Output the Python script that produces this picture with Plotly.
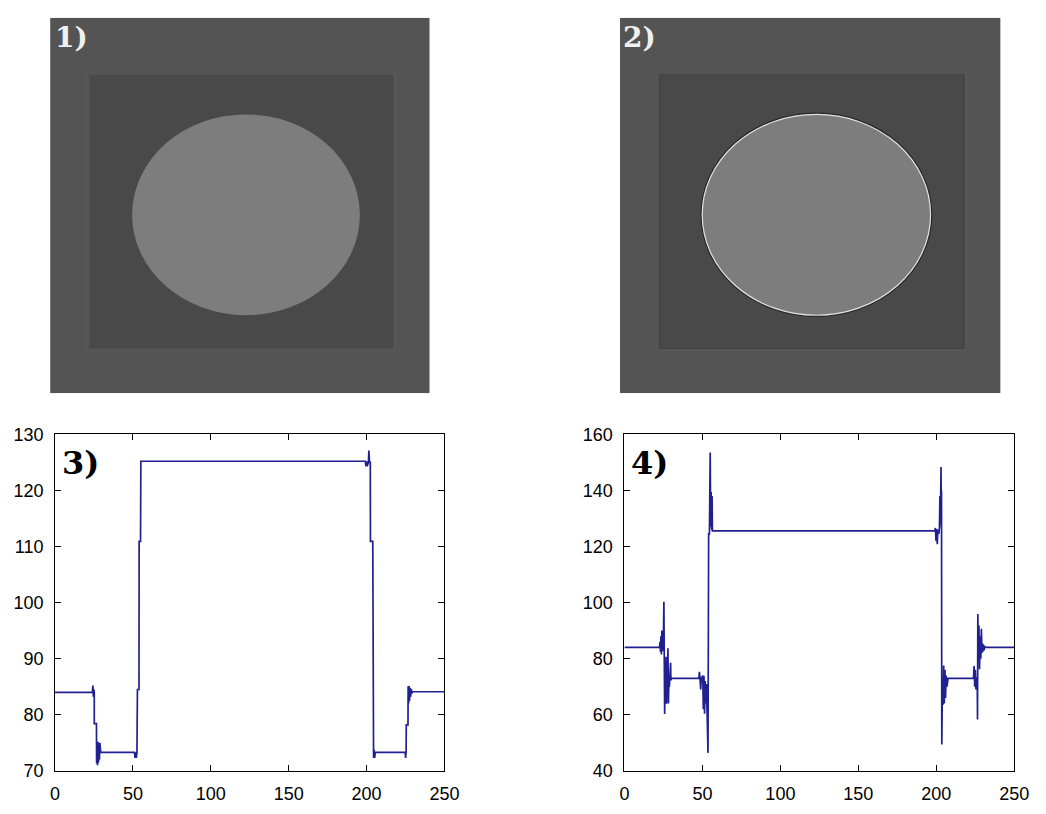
import plotly.graph_objects as go

# ---------------- data ----------------
# grey levels of the synthetic image (background, square, disc)
IMAGE_LEVELS = [84, 73, 125]
# geometry of the image content in image pixels (250 x 250 image)
IMAGE_SIZE = [250, 250]
SQUARE_BOUNDS = [26, 226, 38, 220]        # x0, x1, y0, y1
DISC_BOUNDS = [54, 204, 64.3, 198]        # x0, x1, y0, y1

# profile 3) : original image, centre row
P3_X = [0, 24, 24.3, 24.6, 24.9, 25.2, 25.2, 26.6, 26.7, 27.0, 27.3, 27.6, 27.9, 28.2, 28.5, 28.8,
        29.3, 29.8, 51, 51.4, 51.8, 52.2, 52.6, 52.9, 53.9, 54.0, 54.9, 55.1,
        199.3, 199.6, 200.0, 200.4, 200.8, 201.2, 201.5, 201.9, 202.4, 202.5, 204.0, 204.2,
        204.5, 204.8, 205.2, 205.6, 206.2, 224.8, 225.1, 225.4, 225.5, 226.6, 226.7, 227.0,
        227.3, 227.6, 227.9, 228.3, 228.7, 229.1, 229.6, 250]
P3_Y = [84, 84, 85.2, 83.2, 84.5, 84, 78.4, 78.4, 71.3, 74, 71, 75.2, 71.5, 74, 72, 75,
        73.3, 73.3, 73.3, 72.3, 73.3, 72.3, 73.3, 84.5, 84.5, 110.9, 110.9, 125.2,
        125.2, 124.3, 125.2, 124.3, 125, 125, 127.1, 125, 125, 110.9, 110.9, 74,
        72.3, 73.8, 72.3, 73.3, 73.3, 73.3, 72.3, 73.5, 78.2, 78.2, 85.1, 82,
        85.1, 82.5, 84.8, 83.2, 84.6, 83.8, 84.1, 84.1]

# profile 4) : filtered image, centre row
P4_X = [0, 22.5, 22.8, 23.1, 23.4, 23.7, 24.0, 24.3, 24.6, 24.9, 25.3, 25.5, 25.8, 26.1, 26.4,
        26.7, 27.0, 27.3, 27.6, 27.9, 28.2, 28.5, 28.8, 29.2, 29.6, 29.8, 30.2, 47.7, 48.1,
        48.5, 48.9, 49.3, 49.8, 50.2, 50.6, 51.0, 51.4, 51.8, 52.2, 52.6, 53.0, 53.6, 54.0,
        54.5, 55.0, 55.3, 55.6, 55.9, 56.2, 56.4,
        199.0, 199.4, 199.8, 200.2, 200.6, 201.0, 201.6, 202.0, 202.3, 202.6, 203.0, 203.2,
        203.3, 203.5, 203.9, 204.3, 204.7, 205.1, 205.5, 205.9, 206.3, 206.8, 207.5, 223.8,
        224.2, 224.6, 225.0, 225.4, 225.8, 226.2, 226.4, 226.6, 226.9, 227.3, 227.7, 228.1,
        228.5, 228.9, 229.2, 229.5, 229.8, 230.2, 230.6, 231.0, 231.5, 250]
P4_Y = [84, 84, 86, 82.5, 88, 81.5, 90, 82.6, 89, 83, 100.3, 81, 60.3, 74, 64,
        80.7, 63.9, 75, 66, 83.7, 64, 72, 70, 73.5, 78.5, 72.3, 73, 73, 75.3,
        72.5, 69, 73.5, 73, 74, 62, 73.9, 60.4, 72, 64, 71, 60.4, 46.4, 124.5,
        124.5, 153.5, 127, 139.4, 126, 138, 125.6,
        125.6, 126.6, 122, 126.2, 120.8, 126, 124.5, 127, 138, 128, 148.3, 127,
        140, 49.4, 72, 63.6, 77.6, 64, 76, 66, 74, 70, 73, 73,
        77.4, 70, 76, 69, 73, 73.5, 58.3, 95.9, 80, 91.8, 76.2, 88,
        80, 90.7, 82, 85.5, 82.5, 85, 83, 84.5, 84, 84]

X_TICKS = [0, 50, 100, 150, 200, 250]
P3_YTICKS = [70, 80, 90, 100, 110, 120, 130]
P4_YTICKS = [40, 60, 80, 100, 120, 140, 160]
PANEL_LABELS = ["1)", "2)", "3)", "4)"]

# ---------------- figure ----------------
W, H = 1046, 814
LINE_COLOR = "#202090"


def gray(v):
    return f"rgb({v},{v},{v})"


def px_dom_x(a, b):
    return [a / W, b / W]


def px_dom_y(top, bottom):
    return [1 - bottom / H, 1 - top / H]


fig = go.Figure()

fig.add_trace(go.Scatter(x=P3_X, y=P3_Y, mode="lines", xaxis="x3", yaxis="y3",
                         line=dict(color=LINE_COLOR, width=1.7), showlegend=False,
                         hoverinfo="skip"))
fig.add_trace(go.Scatter(x=P4_X, y=P4_Y, mode="lines", xaxis="x4", yaxis="y4",
                         line=dict(color=LINE_COLOR, width=1.7), showlegend=False,
                         hoverinfo="skip"))
# invisible traces to anchor the image axes
fig.add_trace(go.Scatter(x=[0, IMAGE_SIZE[0]], y=[0, IMAGE_SIZE[1]], mode="markers",
                         marker=dict(opacity=0), xaxis="x", yaxis="y", showlegend=False,
                         hoverinfo="skip"))
fig.add_trace(go.Scatter(x=[0, IMAGE_SIZE[0]], y=[0, IMAGE_SIZE[1]], mode="markers",
                         marker=dict(opacity=0), xaxis="x2", yaxis="y2", showlegend=False,
                         hoverinfo="skip"))

img_axis = dict(showgrid=False, zeroline=False, showticklabels=False,
                ticks="", showline=False, fixedrange=True)

shapes = []
for xr, yr, filtered in (("x", "y", False), ("x2", "y2", True)):
    shapes.append(dict(type="rect", xref=xr, yref=yr, x0=0, x1=IMAGE_SIZE[0], y0=0,
                       y1=IMAGE_SIZE[1], fillcolor=gray(IMAGE_LEVELS[0]), line=dict(width=0),
                       layer="below"))
    shapes.append(dict(type="rect", xref=xr, yref=yr, x0=SQUARE_BOUNDS[0] - 2.5,
                       x1=SQUARE_BOUNDS[1] + 1.5, y0=SQUARE_BOUNDS[2] - 2.5,
                       y1=SQUARE_BOUNDS[3] + 1.5, fillcolor="rgba(0,0,0,0)",
                       line=dict(width=1, color=gray(IMAGE_LEVELS[0] + 6)), layer="below"))
    shapes.append(dict(type="rect", xref=xr, yref=yr, x0=SQUARE_BOUNDS[0], x1=SQUARE_BOUNDS[1],
                       y0=SQUARE_BOUNDS[2], y1=SQUARE_BOUNDS[3],
                       fillcolor=gray(IMAGE_LEVELS[1]),
                       line=dict(width=1 if filtered else 0, color=gray(IMAGE_LEVELS[1] - 6)),
                       layer="below"))
    if filtered:
        shapes.append(dict(type="circle", xref=xr, yref=yr, x0=DISC_BOUNDS[0] - 0.8,
                           x1=DISC_BOUNDS[1] + 0.8, y0=DISC_BOUNDS[2] - 0.8,
                           y1=DISC_BOUNDS[3] + 0.8, fillcolor="rgba(0,0,0,0)",
                           line=dict(width=1.2, color="rgb(40,40,40)"), layer="below"))
    shapes.append(dict(type="circle", xref=xr, yref=yr, x0=DISC_BOUNDS[0], x1=DISC_BOUNDS[1],
                       y0=DISC_BOUNDS[2], y1=DISC_BOUNDS[3], fillcolor=gray(IMAGE_LEVELS[2]),
                       line=dict(width=1.2 if filtered else 0, color="rgb(225,225,225)"),
                       layer="below"))

tick_font = dict(family="Liberation Sans, Arial, sans-serif", size=18, color="black")
plot_axis = dict(showgrid=False, zeroline=False, showline=True, linecolor="black", linewidth=1,
                 mirror="ticks", ticks="inside", ticklen=6, tickwidth=1, tickcolor="black",
                 tickfont=tick_font, ticklabelstandoff=7, fixedrange=True)

fig.update_layout(
    width=W, height=H, margin=dict(l=0, r=0, t=0, b=0), autosize=False,
    paper_bgcolor="white", plot_bgcolor="white", showlegend=False,
    xaxis=dict(**img_axis, range=[0, IMAGE_SIZE[0]], domain=px_dom_x(46, 433), anchor="y"),
    yaxis=dict(**img_axis, range=[IMAGE_SIZE[1], 0], domain=px_dom_y(8, 393), anchor="x"),
    xaxis2=dict(**img_axis, range=[0, IMAGE_SIZE[0]], domain=px_dom_x(627, 1015), anchor="y2"),
    yaxis2=dict(**img_axis, range=[IMAGE_SIZE[1], 0], domain=px_dom_y(8, 393), anchor="x2"),
    xaxis3=dict(**plot_axis, range=[0, 250], tickvals=X_TICKS, domain=px_dom_x(51, 448),
                anchor="y3"),
    yaxis3=dict(**plot_axis, range=[70, 130], tickvals=P3_YTICKS, domain=px_dom_y(435, 780),
                anchor="x3"),
    xaxis4=dict(**plot_axis, range=[0, 250], tickvals=X_TICKS, domain=px_dom_x(631.5, 1029),
                anchor="y4"),
    yaxis4=dict(**plot_axis, range=[40, 160], tickvals=P4_YTICKS, domain=px_dom_y(435, 780),
                anchor="x4"),
    shapes=shapes,
)

label_font_img = dict(family="DejaVu Serif", size=28, color="rgb(240,240,240)")
label_font_plot = dict(family="DejaVu Serif", size=32, color="black")
fig.add_annotation(text=f"<b>{PANEL_LABELS[0]}</b>", xref="paper", yref="paper",
                   x=49 / W, y=1 - 9 / H, xanchor="left", yanchor="top", showarrow=False,
                   font=label_font_img)
fig.add_annotation(text=f"<b>{PANEL_LABELS[1]}</b>", xref="paper", yref="paper",
                   x=628 / W, y=1 - 9 / H, xanchor="left", yanchor="top", showarrow=False,
                   font=label_font_img)
fig.add_annotation(text=f"<b>{PANEL_LABELS[2]}</b>", xref="paper", yref="paper",
                   x=56 / W, y=1 - 443 / H, xanchor="left", yanchor="top", showarrow=False,
                   font=label_font_plot)
fig.add_annotation(text=f"<b>{PANEL_LABELS[3]}</b>", xref="paper", yref="paper",
                   x=636 / W, y=1 - 443 / H, xanchor="left", yanchor="top", showarrow=False,
                   font=label_font_plot)

fig.write_html("out.html", config=dict(displayModeBar=False),
               post_script="document.body.style.margin='0px';"
                           "document.documentElement.style.overflow='hidden';")
